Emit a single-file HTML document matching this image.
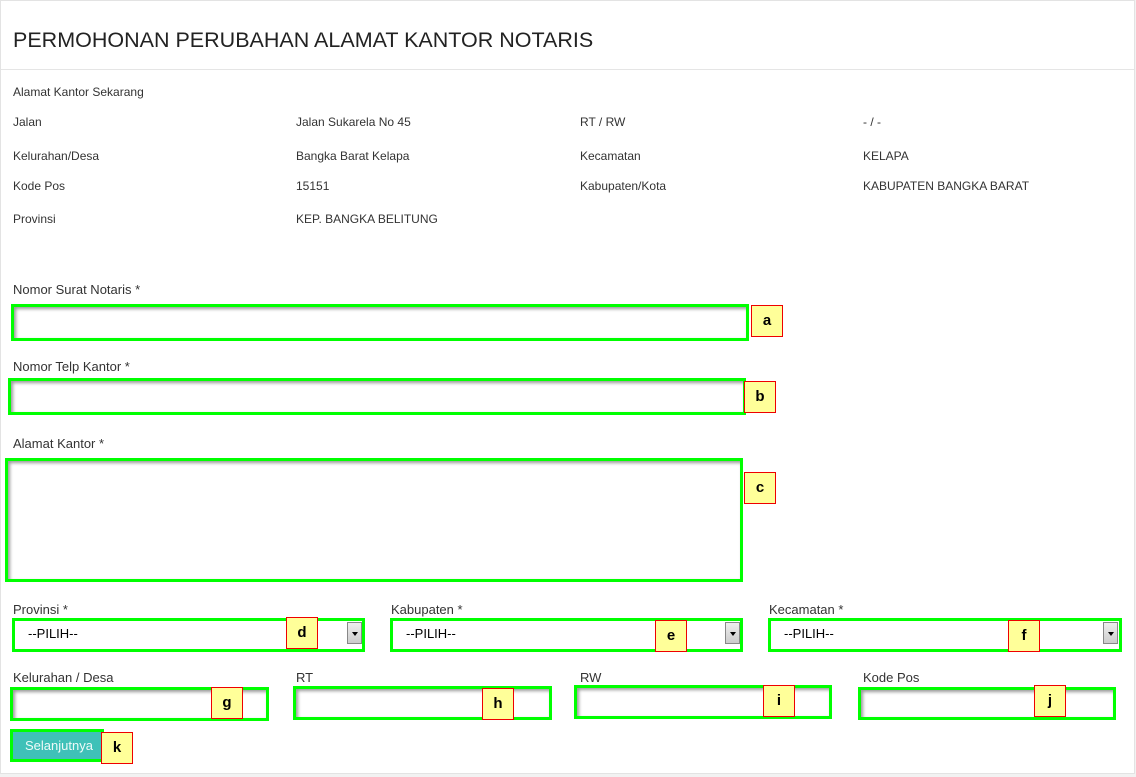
<!DOCTYPE html>
<html><head><meta charset="utf-8"><style>
body{margin:0;width:1136px;height:777px;background:#f2f2f2;font-family:"Liberation Sans",Arial,sans-serif;color:#333;position:relative;overflow:hidden}
.panel{position:absolute;left:0;top:0;width:1133px;height:772px;background:#fff;border:1px solid #e3e3e3}
.t{position:absolute;font-size:12px;color:#333}
.l{position:absolute;font-size:13px;color:#333}
.g{position:absolute;border:3px solid #0f0;box-sizing:border-box;background:#fff;box-shadow:inset 2px 2px 3px #999}
.lab{position:absolute;width:32px;height:32px;box-sizing:border-box;background:#ffff99;border:1px solid #e00;font-size:15px;font-weight:bold;color:#000;text-align:center;line-height:30px}
.sel{position:absolute;font-size:13px;color:#000}
.arr{position:absolute;width:15px;height:22px;background:linear-gradient(#eee,#ccc);border:1px solid #888;box-sizing:border-box}
.arr:after{content:"";position:absolute;left:4px;top:9px;border-left:3px solid transparent;border-right:3px solid transparent;border-top:4px solid #000}
</style></head><body>
<div class="panel"></div>
<div style="position:absolute;left:13px;top:28px;font-size:21.5px;color:#222">PERMOHONAN PERUBAHAN ALAMAT KANTOR NOTARIS</div>
<div style="position:absolute;left:1px;top:69px;width:1133px;height:1px;background:#e5e5e5"></div>
<div class="t" style="left:13px;top:85px">Alamat Kantor Sekarang</div>
<div class="t" style="left:13px;top:115px">Jalan</div><div class="t" style="left:296px;top:115px">Jalan Sukarela No 45</div><div class="t" style="left:580px;top:115px">RT / RW</div><div class="t" style="left:863px;top:115px">- / -</div>
<div class="t" style="left:13px;top:149px">Kelurahan/Desa</div><div class="t" style="left:296px;top:149px">Bangka Barat Kelapa</div><div class="t" style="left:580px;top:149px">Kecamatan</div><div class="t" style="left:863px;top:149px">KELAPA</div>
<div class="t" style="left:13px;top:179px">Kode Pos</div><div class="t" style="left:296px;top:179px">15151</div><div class="t" style="left:580px;top:179px">Kabupaten/Kota</div><div class="t" style="left:863px;top:179px">KABUPATEN BANGKA BARAT</div>
<div class="t" style="left:13px;top:212px">Provinsi</div><div class="t" style="left:296px;top:212px">KEP. BANGKA BELITUNG</div>
<div class="l" style="left:13px;top:282px">Nomor Surat Notaris *</div>
<div class="g" style="left:11px;top:304px;width:738px;height:37px"></div><div class="lab" style="left:751px;top:305px">a</div>
<div class="l" style="left:13px;top:359px">Nomor Telp Kantor *</div>
<div class="g" style="left:8px;top:378px;width:738px;height:37px"></div><div class="lab" style="left:744px;top:381px">b</div>
<div class="l" style="left:13px;top:436px">Alamat Kantor *</div>
<div class="g" style="left:5px;top:458px;width:738px;height:124px"></div><div class="lab" style="left:744px;top:472px">c</div>
<div class="l" style="left:13px;top:602px">Provinsi *</div><div class="l" style="left:391px;top:602px">Kabupaten *</div><div class="l" style="left:769px;top:602px">Kecamatan *</div>
<div class="g" style="left:12px;top:618px;width:353px;height:34px;box-shadow:none"></div><div class="sel" style="left:28px;top:626px">--PILIH--</div><div class="arr" style="left:347px;top:622px"></div><div class="lab" style="left:286px;top:617px">d</div>
<div class="g" style="left:390px;top:618px;width:353px;height:34px;box-shadow:none"></div><div class="sel" style="left:406px;top:626px">--PILIH--</div><div class="arr" style="left:725px;top:622px"></div><div class="lab" style="left:655px;top:620px">e</div>
<div class="g" style="left:768px;top:618px;width:354px;height:34px;box-shadow:none"></div><div class="sel" style="left:784px;top:626px">--PILIH--</div><div class="arr" style="left:1103px;top:622px"></div><div class="lab" style="left:1008px;top:620px">f</div>
<div class="l" style="left:13px;top:670px">Kelurahan / Desa</div><div class="l" style="left:296px;top:670px">RT</div><div class="l" style="left:580px;top:670px">RW</div><div class="l" style="left:863px;top:670px">Kode Pos</div>
<div class="g" style="left:10px;top:687px;width:259px;height:34px"></div><div class="lab" style="left:211px;top:687px">g</div>
<div class="g" style="left:293px;top:686px;width:259px;height:34px"></div><div class="lab" style="left:482px;top:688px">h</div>
<div class="g" style="left:574px;top:685px;width:258px;height:34px"></div><div class="lab" style="left:763px;top:685px">i</div>
<div class="g" style="left:858px;top:687px;width:258px;height:33px"></div><div class="lab" style="left:1034px;top:685px">j</div>
<div style="position:absolute;left:10px;top:729px;width:94px;height:33px;box-sizing:border-box;border:3px solid #0f0;background:#3fc1b8;color:#eefaf8;font-size:13px;line-height:27px;padding-left:12px">Selanjutnya</div>
<div class="lab" style="left:101px;top:732px">k</div>
</body></html>
